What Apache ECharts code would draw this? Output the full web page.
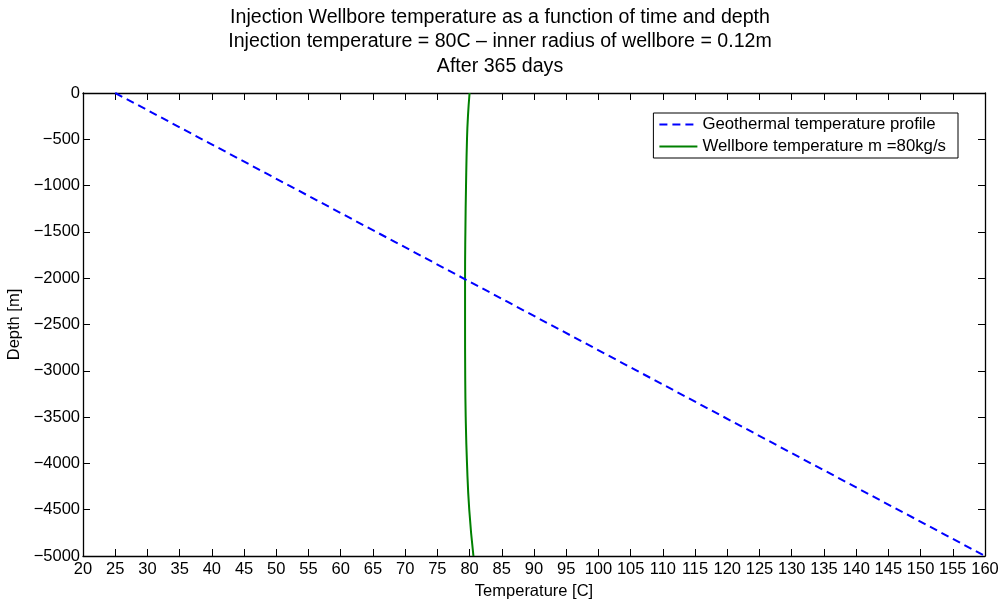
<!DOCTYPE html>
<html>
<head>
<meta charset="utf-8">
<script src="https://cdn.jsdelivr.net/npm/echarts@6/dist/echarts.min.js"></script>
<style>html,body{margin:0;padding:0;background:#fff}#c{width:998px;height:601px}</style>
</head>
<body>
<div id="c"></div>
<script>
var titleLines = ['Injection Wellbore temperature as a function of time and depth',
  'Injection temperature = 80C \u2013 inner radius of wellbore = 0.12m',
  'After 365 days'];
var geoDepth = [0, -5000];
var geoTemp = [25, 160];
var wellDepth = [0, -250, -500, -1000, -1500, -2000, -2500, -3000, -3500, -4000, -4500, -5000];
var wellTemp = [80.0, 79.75, 79.6, 79.45, 79.35, 79.3, 79.3, 79.32, 79.4, 79.6, 79.95, 80.6];
var seriesNames = ['Geothermal temperature profile', 'Wellbore temperature m =80kg/s'];
var xMin = 20, xMax = 160, xStep = 5;
var yMin = -5000, yMax = 0, yStep = 500;

var chart = echarts.init(document.getElementById('c'));
var font = 'Liberation Sans, Arial, Helvetica, sans-serif';
function pairs(t, d){ return t.map(function(v,i){ return [v, d[i]]; }); }
function minus(v){ return String(v).replace('-', '\u2212'); }
var axisCommon = {
  axisLine: {show: true, onZero: false, lineStyle: {color: '#000', width: 1.3}},
  axisTick: {show: true, inside: true, length: 7, lineStyle: {color: '#000'}},
  splitLine: {show: false}
};
var tickFont = 16.5;
chart.setOption({
  animation: false,
  backgroundColor: '#fff',
  title: {
    text: titleLines.join('\n'),
    left: 500, top: 5, textAlign: 'center', padding: 0,
    textStyle: {fontFamily: font, fontSize: 19.6, fontWeight: 'normal', color: '#000', lineHeight: 24.5}
  },
  legend: {
    right: 40, top: 113, orient: 'vertical',
    backgroundColor: '#fff', borderColor: '#000', borderWidth: 1, borderRadius: 0,
    padding: [3, 12, 3, 5], itemGap: 5, itemWidth: 38, itemHeight: 18,
    itemStyle: {opacity: 0},
    textStyle: {fontFamily: font, fontSize: 16.8, color: '#000'},
    data: seriesNames
  },
  grid: {left: 83, right: 13, top: 93, bottom: 45, containLabel: false, outerBoundsMode: 'none'},
  xAxis: [
    Object.assign({type: 'value', min: xMin, max: xMax, interval: xStep, position: 'bottom',
      name: 'Temperature [C]', nameLocation: 'middle', nameGap: 27,
      nameTextStyle: {fontFamily: font, fontSize: tickFont, color: '#000'},
      axisLabel: {fontFamily: font, fontSize: tickFont, color: '#000', margin: 5}}, axisCommon),
    Object.assign({type: 'value', min: xMin, max: xMax, interval: xStep, position: 'top',
      axisLabel: {show: false}}, axisCommon)
  ],
  yAxis: [
    Object.assign({type: 'value', min: yMin, max: yMax, interval: yStep, position: 'left',
      name: 'Depth [m]', nameLocation: 'middle', nameGap: 60,
      nameTextStyle: {fontFamily: font, fontSize: tickFont, color: '#000'},
      axisLabel: {fontFamily: font, fontSize: tickFont, color: '#000', margin: 3, formatter: minus}}, axisCommon),
    Object.assign({type: 'value', min: yMin, max: yMax, interval: yStep, position: 'right',
      axisLabel: {show: false}}, axisCommon)
  ],
  series: [
    {name: seriesNames[0], type: 'line', data: pairs(geoTemp, geoDepth), showSymbol: false, symbol: 'none',
      lineStyle: {color: '#0000ff', width: 2, type: [8, 5]}, itemStyle: {color: '#0000ff'}, z: 3},
    {name: seriesNames[1], type: 'line', data: pairs(wellTemp, wellDepth), showSymbol: false, symbol: 'none', smooth: true,
      lineStyle: {color: '#008000', width: 2}, itemStyle: {color: '#008000'}, z: 2}
  ]
});
</script>
</body>
</html>
